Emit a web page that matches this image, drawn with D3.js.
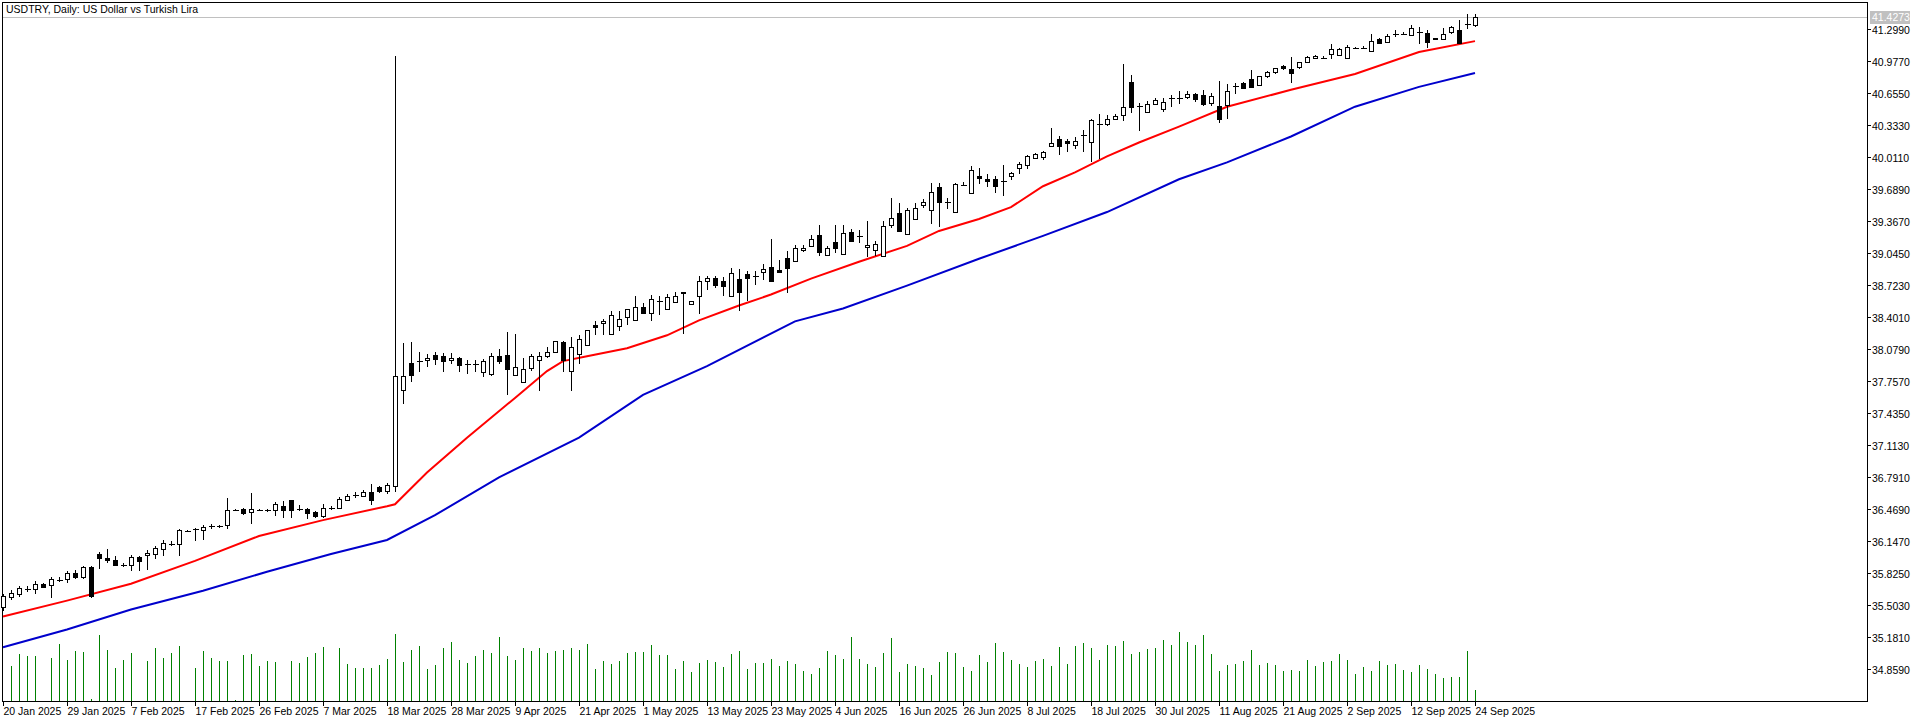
<!DOCTYPE html>
<html><head><meta charset="utf-8">
<script src="https://cdn.jsdelivr.net/npm/d3@7"></script>
<style>body{margin:0;background:#fff}svg{display:block}text{font-family:"Liberation Sans",Arial,sans-serif;font-size:10.5px}</style>
</head><body><svg id="c" width="1920" height="722"></svg>
<script>
const title = "USDTRY, Daily:  US Dollar vs Turkish Lira";
const lastPrice = 41.4273;
// [open, high, low, close]
const ohlc = [
[35.49,35.62,35.45,35.60],[35.59,35.66,35.56,35.63],[35.62,35.70,35.59,35.68],[35.67,35.70,35.64,35.67],[35.67,35.75,35.62,35.72],
[35.716,35.73,35.68,35.689],[35.71,35.79,35.58,35.77],[35.76,35.79,35.74,35.76],[35.77,35.85,35.73,35.83],[35.83,35.86,35.77,35.79],
[35.79,35.90,35.77,35.89],[35.89,35.90,35.58,35.60],[36.02,36.04,35.87,35.98],[35.98,36.07,35.93,35.96],[35.96,36.00,35.90,35.91],
[35.91,35.93,35.89,35.91],[35.91,36.01,35.85,35.99],[35.99,36.00,35.85,35.945],[36.006,36.06,35.86,36.03],[36.02,36.10,35.97,36.08],
[36.07,36.16,36.00,36.13],[36.12,36.15,36.10,36.12],[36.12,36.27,36.00,36.26],[36.25,36.26,36.24,36.25],[36.27,36.28,36.15,36.27],
[36.26,36.31,36.16,36.29],[36.30,36.32,36.27,36.30],[36.30,36.31,36.28,36.30],[36.31,36.58,36.27,36.46],[36.46,36.47,36.45,36.46],
[36.47,36.48,36.41,36.43],[36.44,36.63,36.32,36.47],[36.46,36.47,36.45,36.46],[36.46,36.47,36.44,36.46],[36.46,36.54,36.40,36.52],
[36.50,36.55,36.38,36.46],[36.56,36.56,36.38,36.46],[36.47,36.51,36.45,36.47],[36.47,36.48,36.37,36.43],[36.44,36.45,36.38,36.40],
[36.40,36.52,36.38,36.48],[36.48,36.50,36.46,36.48],[36.48,36.59,36.47,36.57],[36.56,36.62,36.55,36.60],[36.61,36.64,36.58,36.61],
[36.60,36.66,36.59,36.64],[36.64,36.72,36.51,36.56],[36.69,36.70,36.63,36.65],[36.65,36.73,36.62,36.71],[36.70,41.03,36.64,37.81],
[37.67,38.14,37.53,37.81],[37.94,38.15,37.75,37.82],[37.96,38.05,37.85,37.96],[37.97,38.03,37.90,37.996],[38.02,38.05,37.92,37.98],
[38.01,38.04,37.85,37.96],[37.97,38.04,37.93,37.99],[37.99,38.00,37.85,37.92],[37.93,37.97,37.83,37.93],[37.93,37.97,37.85,37.93],
[37.85,37.98,37.80,37.96],[37.83,38.04,37.81,38.01],[38.01,38.08,37.93,37.96],[38.02,38.25,37.62,37.88],[37.82,38.23,37.82,37.90],
[37.75,37.99,37.75,37.88],[37.89,38.03,37.86,38.01],[37.97,38.05,37.66,38.01],[38.01,38.10,37.99,38.05],[38.05,38.16,38.05,38.16],
[38.15,38.16,37.85,37.97],[37.86,38.20,37.66,38.10],[38.03,38.22,37.93,38.18],[38.12,38.27,38.12,38.27],[38.32,38.36,38.22,38.30],
[38.34,38.38,38.22,38.36],[38.23,38.46,38.23,38.42],[38.31,38.46,38.26,38.38],[38.40,38.48,38.32,38.48],[38.37,38.62,38.37,38.50],
[38.50,38.54,38.43,38.44],[38.44,38.63,38.36,38.59],[38.56,38.62,38.42,38.56],[38.48,38.64,38.48,38.61],[38.55,38.66,38.55,38.62],
[38.66,38.66,38.23,38.65],[38.53,38.56,38.52,38.56],[38.62,38.82,38.43,38.77],[38.77,38.82,38.68,38.80],[38.80,38.82,38.70,38.73],
[38.77,38.81,38.62,38.72],[38.62,38.90,38.62,38.85],[38.79,38.89,38.46,38.66],[38.84,38.87,38.56,38.80],[38.82,38.87,38.73,38.82],
[38.86,38.94,38.78,38.89],[38.91,39.19,38.76,38.77],[38.88,38.98,38.86,38.86],[38.999,39.07,38.65,38.896],[38.97,39.13,38.96,39.10],
[39.08,39.13,39.06,39.096],[39.12,39.23,39.12,39.19],[39.23,39.33,39.02,39.06],[39.03,39.12,39.02,39.10],[39.16,39.33,39.05,39.10],
[39.04,39.33,39.04,39.25],[39.26,39.29,39.16,39.17],[39.22,39.28,39.15,39.22],[39.105,39.37,39.01,39.13],[39.08,39.17,39.02,39.14],
[39.02,39.37,39.02,39.32],[39.33,39.60,39.30,39.40],[39.45,39.55,39.26,39.27],[39.24,39.50,39.23,39.48],[39.39,39.55,39.39,39.50],
[39.53,39.59,39.50,39.56],[39.48,39.75,39.34,39.66],[39.71,39.75,39.31,39.56],[39.56,39.60,39.49,39.56],[39.46,39.75,39.46,39.74],
[39.73,39.76,39.72,39.73],[39.65,39.92,39.65,39.88],[39.82,39.90,39.74,39.80],[39.79,39.84,39.71,39.77],[39.79,39.82,39.65,39.72],
[39.77,39.93,39.62,39.77],[39.82,39.86,39.78,39.85],[39.905,39.96,39.84,39.94],[39.93,40.03,39.89,40.02],[40.005,40.05,39.99,40.04],
[40.01,40.07,39.98,40.06],[40.12,40.31,40.12,40.156],[40.20,40.23,40.03,40.12],[40.17,40.20,40.06,40.15],[40.13,40.22,40.09,40.18],
[40.24,40.29,40.06,40.24],[40.16,40.40,39.96,40.39],[40.35,40.45,39.99,40.35],[40.35,40.44,40.33,40.40],[40.40,40.45,40.39,40.43],
[40.44,40.95,40.38,40.52],[40.77,40.84,40.46,40.52],[40.53,40.56,40.28,40.53],[40.465,40.58,40.46,40.55],[40.55,40.61,40.54,40.59],
[40.50,40.61,40.47,40.57],[40.61,40.64,40.52,40.61],[40.61,40.68,40.55,40.61],[40.616,40.68,40.60,40.65],[40.65,40.66,40.57,40.60],
[40.64,40.69,40.53,40.55],[40.56,40.66,40.53,40.63],[40.53,40.78,40.36,40.40],[40.54,40.75,40.40,40.68],[40.73,40.76,40.65,40.73],
[40.76,40.77,40.70,40.71],[40.80,40.89,40.72,40.72],[40.74,40.83,40.73,40.83],[40.83,40.88,40.81,40.87],[40.87,40.91,40.85,40.91],
[40.926,40.94,40.89,40.906],[40.90,41.02,40.76,40.86],[40.92,40.97,40.90,40.966],[40.966,41.03,40.96,41.02],[41.006,41.04,41.00,41.03],
[41.01,41.03,41.00,41.01],[41.05,41.15,41.00,41.105],[41.04,41.11,41.03,41.105],[41.006,41.14,41.00,41.116],[41.11,41.12,41.10,41.11],
[41.11,41.13,41.10,41.11],[41.08,41.25,41.07,41.18],[41.206,41.21,41.16,41.166],[41.17,41.25,41.16,41.236],[41.25,41.29,41.22,41.25],
[41.25,41.27,41.24,41.25],[41.24,41.34,41.24,41.31],[41.27,41.32,41.15,41.27],[41.266,41.29,41.11,41.17],[41.20,41.21,41.19,41.216],
[41.206,41.31,41.19,41.256],[41.27,41.33,41.25,41.32],[41.296,41.39,41.16,41.16],[41.356,41.45,41.30,41.356],[41.346,41.45,41.32,41.4273]
];
const volume = [0,35,47,45,45,0,43,57,41,50,49,2,66,51,33,41,48,0,40,53,43,48,55,0,33,50,43,40,40,1,46,47,35,40,39,0,40,38,44,48,54,0,53,37,33,33,33,36,42,67,39,51,55,32,36,53,59,41,38,45,51,48,64,
45,41,53,50,53,48,50,51,53,51,57,32,40,37,40,48,49,49,56,46,46,32,40,29,38,41,39,34,47,50,32,38,38,42,35,40,37,30,27,33,50,46,42,64,42,37,34,48,63,29,37,35,33,26,39,49,48,34,30,46,39,
58,49,41,37,34,40,42,35,54,37,55,58,53,41,56,55,60,47,49,52,53,61,56,69,59,56,66,47,30,36,37,40,51,36,38,36,30,31,30,41,35,39,40,47,41,27,34,30,40,36,37,31,29,36,32,27,23,24,24,50,11];
const maRed = [[0,35.39],[8,35.55],[16,35.72],[24,35.95],[32,36.20],[40,36.36],[48,36.50],[49,36.52],[53,36.84],[58,37.19],[64,37.59],[68,37.86],[70,37.96],[73,38.01],[78,38.09],[83,38.22],[87,38.37],[92,38.52],[96,38.63],[101,38.79],[107,38.96],[113,39.12],[117,39.27],[122,39.39],[126,39.51],[130,39.72],[134,39.86],[138,40.02],[142,40.16],[147,40.32],[153,40.52],[161,40.69],[169,40.85],[177,41.07],[184,41.18]];
const maBlue = [[0,35.08],[8,35.26],[16,35.46],[25,35.65],[33,35.84],[41,36.02],[48,36.16],[54,36.41],[62,36.79],[72,37.19],[80,37.62],[88,37.91],[99,38.36],[105,38.49],[113,38.72],[122,38.99],[130,39.22],[138,39.46],[147,39.79],[153,39.96],[161,40.22],[169,40.52],[177,40.72],[184,40.86]];
const priceTicks = ["41.2990","40.9770","40.6550","40.3330","40.0110","39.6890","39.3670","39.0450","38.7230","38.4010","38.0790","37.7570","37.4350","37.1130","36.7910","36.4690","36.1470","35.8250","35.5030","35.1810","34.8590"];
const dateLabels = ["20 Jan 2025","29 Jan 2025","7 Feb 2025","17 Feb 2025","26 Feb 2025","7 Mar 2025","18 Mar 2025","28 Mar 2025","9 Apr 2025","21 Apr 2025","1 May 2025","13 May 2025","23 May 2025","4 Jun 2025","16 Jun 2025","26 Jun 2025","8 Jul 2025","18 Jul 2025","30 Jul 2025","11 Aug 2025","21 Aug 2025","2 Sep 2025","12 Sep 2025","24 Sep 2025"];
const dateIdx = dateLabels.map((d,i)=>i*8);

const svg = d3.select("#c");
const L=2, R=1867, T=2, B=701;
const x = d3.scaleLinear().domain([0,184]).range([3,1475]);
const y = d3.scaleLinear().domain([34.859,41.299]).range([669.3,29.3]);
const yv = d3.scaleLinear().domain([0,100]).range([B,B-100]);
const px = v=>Math.round(v)+0.5;

svg.append("rect").attr("x",L+0.5).attr("y",T+0.5).attr("width",R-L).attr("height",B-T).attr("fill","none").attr("stroke","#000");
svg.append("text").attr("x",6).attr("y",13).text(title);
svg.append("line").attr("x1",L+1).attr("x2",R).attr("y1",px(y(lastPrice))).attr("y2",px(y(lastPrice))).attr("stroke","#c0c0c0");
svg.append("g").selectAll("line").data(volume).join("line")
 .attr("x1",(d,i)=>px(x(i))).attr("x2",(d,i)=>px(x(i))).attr("y1",B).attr("y2",d=>Math.round(yv(d)))
 .attr("stroke","#008000").attr("stroke-width",1).attr("shape-rendering","crispEdges");
const line = d3.line().x(d=>x(d[0])).y(d=>y(d[1])).curve(d3.curveLinear);
svg.append("path").attr("d",line(maBlue)).attr("fill","none").attr("stroke","#0000cc").attr("stroke-width",2);
svg.append("path").attr("d",line(maRed)).attr("fill","none").attr("stroke","#ff0000").attr("stroke-width",2);
const g = svg.append("g").attr("shape-rendering","crispEdges");
ohlc.forEach((d,i)=>{
  const [o,h,l,c]=d, cx=px(x(i));
  const top=Math.round(y(Math.max(o,c))), bot=Math.round(y(Math.min(o,c)));
  g.append("line").attr("x1",cx).attr("x2",cx).attr("y1",Math.round(y(h))).attr("y2",Math.round(y(l))).attr("stroke","#000");
  if(bot-top<1){
    g.append("line").attr("x1",cx-2.5).attr("x2",cx+3).attr("y1",top+0.5).attr("y2",top+0.5).attr("stroke","#000");
  } else {
    g.append("rect").attr("x",cx-2).attr("y",top+0.5).attr("width",4).attr("height",bot-top)
     .attr("fill",c>=o?"#fff":"#000").attr("stroke","#000");
  }
});
const ra = svg.append("g");
priceTicks.forEach(t=>{
  const yy=px(y(+t));
  ra.append("line").attr("x1",R).attr("x2",R+4).attr("y1",yy).attr("y2",yy).attr("stroke","#000");
  ra.append("text").attr("x",R+5).attr("y",yy+4).text(t);
});
const ly=Math.round(y(lastPrice));
ra.append("rect").attr("x",R+3).attr("y",ly-6).attr("width",40).attr("height",13).attr("fill","#c0c0c0");
ra.append("text").attr("x",R+5).attr("y",ly+4).attr("fill","#fff").text(lastPrice.toFixed(4));
dateLabels.forEach((t,k)=>{
  const xx=px(x(dateIdx[k]));
  svg.append("line").attr("x1",xx).attr("x2",xx).attr("y1",B).attr("y2",B+5).attr("stroke","#000");
  svg.append("text").attr("x",xx).attr("y",B+14).text(t);
});
</script></body></html>
